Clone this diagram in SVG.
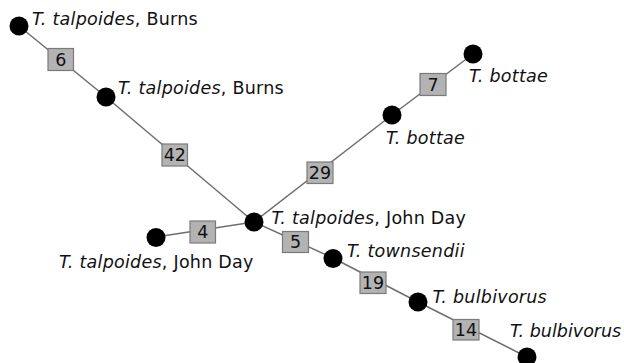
<svg xmlns="http://www.w3.org/2000/svg" width="624" height="363" viewBox="0 0 624 363">
<style>
.edge{stroke:#6e6e6e;stroke-width:1.5;fill:none}
.node{fill:#000}
.lbl{font-family:"DejaVu Sans",Verdana,sans-serif;font-size:17.5px;letter-spacing:0.25px;fill:#111}
.it{font-style:italic}
.box{fill:#b3b3b3;stroke:#7a7a7a;stroke-width:1.2}
.num{font-family:"DejaVu Sans",Verdana,sans-serif;font-size:17.5px;fill:#111;text-anchor:middle}
</style>
<rect width="624" height="363" fill="#fff"/>
<g id="connectors">
<line class="edge" x1="19" y1="26" x2="106" y2="97"/>
<line class="edge" x1="106" y1="97" x2="254" y2="222"/>
<line class="edge" x1="156" y1="237" x2="254" y2="222"/>
<line class="edge" x1="254" y1="222" x2="392" y2="115"/>
<line class="edge" x1="392" y1="115" x2="473" y2="54"/>
<line class="edge" x1="254" y1="222" x2="333" y2="258"/>
<line class="edge" x1="333" y1="258" x2="418" y2="302"/>
<line class="edge" x1="418" y1="302" x2="527" y2="357"/>
</g>
<g id="w6"><rect class="box" x="48" y="48.5" width="25.5" height="22"/><text class="num" x="60.8" y="65.8">6</text></g>
<g id="w42"><rect class="box" x="162" y="144" width="25.5" height="22"/><text class="num" x="174.8" y="161.3">42</text></g>
<g id="w4"><rect class="box" x="190" y="221" width="25.5" height="22"/><text class="num" x="202.8" y="238.3">4</text></g>
<g id="w29"><rect class="box" x="307" y="162" width="26" height="21.5"/><text class="num" x="320" y="179">29</text></g>
<g id="w7"><rect class="box" x="420" y="73.5" width="26" height="22"/><text class="num" x="433" y="90.8">7</text></g>
<g id="w5"><rect class="box" x="282.5" y="231.5" width="26" height="21"/><text class="num" x="295.5" y="248.3">5</text></g>
<g id="w19"><rect class="box" x="360" y="272" width="26" height="21.5"/><text class="num" x="373" y="289">19</text></g>
<g id="w14"><rect class="box" x="453" y="319.5" width="26" height="20.5"/><text class="num" x="466" y="336.3">14</text></g>
<g id="n1"><circle class="node" cx="19" cy="26" r="9.5"/><text class="lbl" x="32" y="25"><tspan class="it">T. talpoides</tspan>, Burns</text></g>
<g id="n2"><circle class="node" cx="106" cy="97" r="9.5"/><text class="lbl" x="118" y="94"><tspan class="it">T. talpoides</tspan>, Burns</text></g>
<g id="hub"><circle class="node" cx="254" cy="222" r="9.5"/><text class="lbl" x="271.5" y="224"><tspan class="it">T. talpoides</tspan>, John Day</text></g>
<g id="nleft"><circle class="node" cx="156" cy="237.5" r="9.5"/><text class="lbl" x="59" y="267.5"><tspan class="it">T. talpoides</tspan>, John Day</text></g>
<g id="bottae1"><circle class="node" cx="392" cy="115" r="9.5"/><text class="lbl it" x="386" y="144">T. bottae</text></g>
<g id="bottae2"><circle class="node" cx="473" cy="54" r="9.5"/><text class="lbl it" x="469" y="81.5">T. bottae</text></g>
<g id="townsendii"><circle class="node" cx="333" cy="258.5" r="9.5"/><text class="lbl it" x="347" y="256.5">T. townsendii</text></g>
<g id="bulb1"><circle class="node" cx="418" cy="302" r="9.5"/><text class="lbl it" x="432.5" y="302.5">T. bulbivorus</text></g>
<g id="bulb2"><circle class="node" cx="527" cy="357" r="9.5"/><text class="lbl it" x="510" y="337" style="letter-spacing:0">T. bulbivorus</text></g>
</svg>
